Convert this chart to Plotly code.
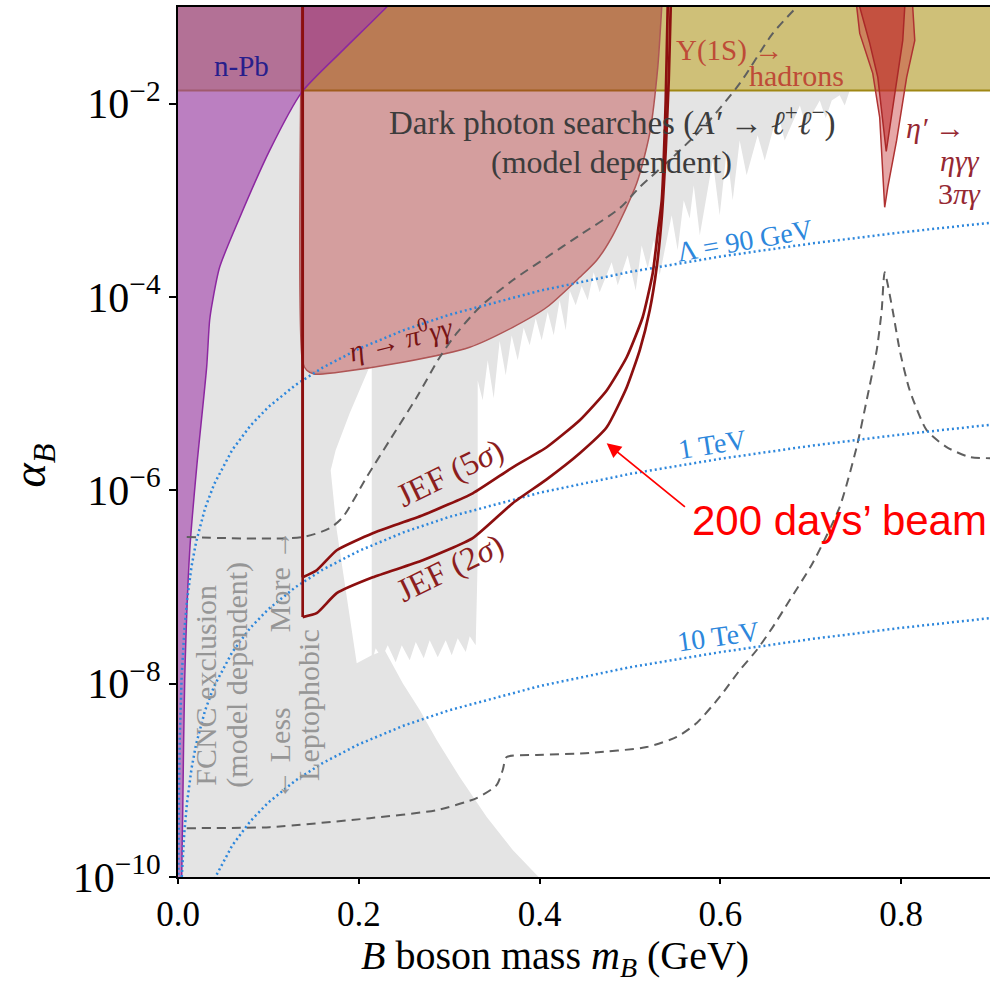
import numpy as np
import plotly.graph_objects as go

# ---------------- data (GeV, alpha_B) ----------------
X_MAX = 0.8982
BAND_LOW = 0.0137          # Upsilon(1S) -> hadrons limit

# n-Pb (purple) boundary
npb_x = [-0.05, 0.0040, 0.0041, 0.0052, 0.0074, 0.013, 0.0207, 0.0317, 0.035, 0.0384,
         0.0461, 0.0683, 0.1014, 0.1368, 0.1822, 0.2308, 0.30, -0.05]
npb_a = [1e-11, 1e-11, 1e-10, 4.6e-10, 1.09e-8, 2.4e-7, 1.74e-6, 1.88e-5, 5.75e-5, 9.25e-5,
         2.04e-4, 6.65e-4, 3.29e-3, 0.0131, 0.0356, 0.1, 0.5, 0.5]

# eta -> pi0 gamma gamma region
etapi_x = [0.1379, 0.1379, 0.1424, 0.1512, 0.1755, 0.2486, 0.3227, 0.3703, 0.4079, 0.4444,
           0.4632, 0.481, 0.5074, 0.5218, 0.5307, 0.5351, 0.540]
etapi_a = [0.5, 2.11e-5, 1.75e-5, 1.59e-5, 1.66e-5, 2.11e-5, 3.02e-5, 4.86e-5, 7.83e-5, 1.6e-4,
           2.4e-4, 4.35e-4, 1.5e-3, 4.93e-3, 0.0237, 0.1, 0.5]

# FCNC / leptophobic grey region
fcnc_x = [-0.05, -0.05, 0.1379, 0.1379, 0.1424, 0.1755, 0.2121, 0.1899, 0.1744, 0.1689, 0.1756,
          0.1866, 0.1977, 0.2143, 0.2287, 0.2486, 0.2674, 0.2862, 0.3116, 0.3415, 0.3703, 0.3989, 0.41]
fcnc_a = [1e-11, BAND_LOW, BAND_LOW, 1.97e-5, 1.75e-5, 1.66e-5, 1.92e-5, 6.27e-6, 2.6e-6, 1.61e-6,
          3.86e-7, 7.84e-8, 1.63e-8, 1.97e-8, 2.22e-8, 1.01e-8, 5.33e-9, 2.61e-9, 1.08e-9, 4.17e-10,
          1.9e-10, 1e-10, 1e-11]

# Dark photon searches (grey, jagged)
darkph_pts = [
    (0.2143, 1.9e-5), (0.2486, 2.11e-5), (0.3227, 3.02e-5), (0.3703, 4.86e-5), (0.4079, 7.83e-5),
    (0.4444, 1.6e-4), (0.4632, 2.4e-4), (0.481, 4.35e-4), (0.5074, 1.5e-3), (0.5218, 4.93e-3),
    (0.5284, BAND_LOW), (0.95, BAND_LOW), (0.743, BAND_LOW), (0.7375, 0.0096), (0.7319, 0.0122),
    (0.7231, 0.0108), (0.7165, 0.00705), (0.7099, 0.0108), (0.6944, 0.00597), (0.6879, 0.0096),
    (0.6711, 0.00417), (0.6633, 0.0081), (0.649, 0.00259), (0.6412, 0.0047), (0.629, 0.00182),
    (0.6213, 0.00417), (0.6136, 0.001), (0.607, 0.00329), (0.5992, 7.0e-4), (0.5915, 0.00259),
    (0.5772, 4.35e-4), (0.5705, 0.00143), (0.566, 6.5e-4), (0.5594, 0.001), (0.5527, 3.04e-4),
    (0.5461, 7.0e-4), (0.5328, 1.68e-4), (0.5262, 3.86e-4), (0.5196, 1.98e-4), (0.5129, 3.42e-4),
    (0.5063, 1.17e-4), (0.4974, 2.7e-4), (0.4864, 1.32e-4), (0.4797, 2.29e-4), (0.4664, 1.12e-4),
    (0.4598, 1.8e-4), (0.4532, 9.25e-5), (0.4466, 1.3e-4), (0.4399, 8.2e-5), (0.4333, 1.17e-4),
    (0.4289, 4.53e-5), (0.4222, 9.25e-5), (0.4156, 4.02e-5), (0.409, 7.0e-5), (0.4023, 3.57e-5),
    (0.3957, 6.03e-5), (0.389, 3.17e-5), (0.3824, 4.8e-5), (0.3758, 2.22e-5), (0.3691, 4.0e-5),
    (0.3625, 1.55e-5), (0.3558, 3.5e-5), (0.3492, 8.97e-6), (0.3426, 2.22e-5), (0.337, 8.55e-6),
    (0.3315, 1.38e-5), (0.3315, 1.89e-7), (0.3293, 2.5e-8), (0.3227, 3.1e-8), (0.3183, 2.12e-8),
    (0.3094, 2.95e-8), (0.3028, 1.97e-8), (0.2961, 2.82e-8), (0.2873, 1.88e-8), (0.2784, 2.82e-8),
    (0.2718, 1.83e-8), (0.263, 2.69e-8), (0.2563, 1.75e-8), (0.2475, 2.5e-8), (0.2408, 1.67e-8),
    (0.232, 2.5e-8), (0.2254, 1.83e-8), (0.2187, 2.33e-8), (0.2143, 1.67e-8),
]
darkph_x = [p[0] for p in darkph_pts]
darkph_a = [p[1] for p in darkph_pts]

# Upsilon band
band_x = [-0.05, 0.95, 0.95, -0.05]
band_a = [BAND_LOW, BAND_LOW, 0.5, 0.5]

# eta' -> eta gamma gamma / 3 pi gamma
etap_out_x = [0.749, 0.7508, 0.7541, 0.7685, 0.7762, 0.7817, 0.7851, 0.7949, 0.806, 0.815, 0.8127, 0.8127]
etap_out_a = [0.5, 0.1, 0.0533, 0.0206, 7.2e-3, 8.47e-4, 1.36e-3, 4.17e-3, 0.0187, 0.0452, 0.1, 0.5]
etap_in_x = [0.7541, 0.7541, 0.7652, 0.7741, 0.7834, 0.7949, 0.8017, 0.8039, 0.8039]
etap_in_a = [0.5, 0.1, 0.042, 0.0187, 3.2e-3, 0.0162, 0.0452, 0.1, 0.5]

# JEF projections (first two points: vertical edge at the pi0 mass)
jef5_x = [0.1379, 0.1379, 0.1534, 0.1756, 0.2154, 0.2707, 0.326, 0.3703, 0.4078, 0.4444, 0.4742,
          0.4963, 0.514, 0.5251, 0.5306, 0.5351, 0.5395, 0.5417, 0.544]
jef5_a = [0.5, 1.26e-7, 1.49e-7, 2.40e-7, 3.60e-7, 5.52e-7, 9.31e-7, 1.73e-6, 2.79e-6, 5.31e-6,
          1.08e-5, 2.38e-5, 6.17e-5, 1.76e-4, 4.56e-4, 1.0e-3, 1.08e-2, 0.1, 0.5]
jef2_x = [0.1379, 0.1379, 0.1534, 0.1756, 0.2154, 0.2707, 0.326, 0.3703, 0.4078, 0.4444, 0.4742,
          0.4963, 0.5107, 0.5218, 0.5295, 0.5351, 0.5395, 0.5428, 0.545, 0.547]
jef2_a = [0.5, 4.88e-8, 5.36e-8, 8.63e-8, 1.26e-7, 1.89e-7, 3.2e-7, 7.36e-7, 1.30e-6, 2.42e-6,
          4.49e-6, 1.16e-5, 2.81e-5, 7.3e-5, 2.03e-4, 6.68e-4, 3.29e-3, 1.74e-2, 0.1, 0.5]

# dashed (model dependent) curves
dash_hi_x = [0.0097, 0.1379, 0.1678, 0.1822, 0.2087, 0.2342, 0.2641, 0.2895, 0.3083, 0.3337, 0.3702,
             0.4079, 0.4444, 0.4886, 0.5108, 0.5473, 0.5849, 0.6214, 0.6579, 0.6845]
dash_hi_a = [3.29e-7, 3.29e-7, 4.07e-7, 5.27e-7, 1.37e-6, 3.3e-6, 9.2e-6, 2.38e-5, 4.22e-5, 7.83e-5,
             1.49e-4, 2.58e-4, 4.36e-4, 8.3e-4, 1.37e-3, 2.79e-3, 6.25e-3, 1.62e-2, 5.33e-2, 0.1]
dash_lo_x = [0.0097, 0.1015, 0.2121, 0.2862, 0.3304, 0.3526, 0.3592, 0.3636, 0.3968, 0.4555, 0.5185,
             0.5517, 0.5738, 0.5992, 0.6214, 0.6402, 0.6579, 0.6767, 0.7021, 0.7319, 0.7507, 0.7618,
             0.7729, 0.7784, 0.7817, 0.7905, 0.7983, 0.8093, 0.8281, 0.8502, 0.8757, 0.90]
dash_lo_a = [3.2e-10, 3.28e-10, 4.06e-10, 4.92e-10, 6.55e-10, 8.95e-10, 1.28e-9, 1.74e-9, 1.83e-9,
             1.92e-9, 2.21e-9, 2.81e-9, 3.92e-9, 7.28e-9, 1.38e-8, 2.23e-8, 3.85e-8, 7.33e-8, 1.77e-7,
             6.71e-7, 2.8e-6, 8.57e-6, 2.82e-5, 7.3e-5, 1.8e-4, 7.3e-5, 2.82e-5, 1.09e-5, 4.19e-6,
             2.8e-6, 2.21e-6, 2.15e-6]

# Lambda contours (dotted)
lam_m = [0.0003, 0.0005, 0.001, 0.002, 0.004, 0.007, 0.01, 0.015, 0.02, 0.03, 0.04, 0.06, 0.08, 0.1,
         0.13, 0.16, 0.2, 0.25, 0.3, 0.4, 0.5, 0.6, 0.7, 0.8, 0.9, 0.92]
lam_90 = [6.55e-11, 1.82e-10, 7.28e-10, 2.91e-9, 1.16e-8, 3.57e-8, 7.28e-8, 1.64e-7, 2.91e-7, 6.55e-7,
          1.16e-6, 2.62e-6, 4.66e-6, 7.28e-6, 1.23e-5, 1.86e-5, 2.91e-5, 4.55e-5, 6.55e-5, 1.16e-4,
          1.82e-4, 2.62e-4, 3.57e-4, 4.66e-4, 5.90e-4, 6.16e-4]
lam_1T = [5.3e-13, 1.47e-12, 5.9e-12, 2.36e-11, 9.44e-11, 2.89e-10, 5.9e-10, 1.33e-9, 2.36e-9, 5.31e-9,
          9.44e-9, 2.12e-8, 3.78e-8, 5.9e-8, 9.97e-8, 1.51e-7, 2.36e-7, 3.69e-7, 5.31e-7, 9.44e-7,
          1.48e-6, 2.12e-6, 2.89e-6, 3.78e-6, 4.78e-6, 4.99e-6]
lam_10T = [5.3e-15, 1.47e-14, 5.9e-14, 2.36e-13, 9.44e-13, 2.89e-12, 5.9e-12, 1.33e-11, 2.36e-11,
           5.31e-11, 9.44e-11, 2.12e-10, 3.78e-10, 5.9e-10, 9.97e-10, 1.51e-9, 2.36e-9, 3.69e-9,
           5.31e-9, 9.44e-9, 1.48e-8, 2.12e-8, 2.89e-8, 3.78e-8, 4.78e-8, 4.99e-8]

x_ticks = [0.0, 0.2, 0.4, 0.6, 0.8]
x_ticktext = ["0.0", "0.2", "0.4", "0.6", "0.8"]
y_ticks = [1e-10, 1e-8, 1e-6, 1e-4, 1e-2]
y_ticktext = ["10<sup>\u221210</sup>", "10<sup>\u22128</sup>", "10<sup>\u22126</sup>",
              "10<sup>\u22124</sup>", "10<sup>\u22122</sup>"]

# ---------------- figure ----------------
SERIF = "Liberation Serif"
fig = go.Figure()


def area(x, y, fill, line_color="rgba(0,0,0,0)", width=0, shape="linear"):
    fig.add_trace(go.Scatter(x=x, y=y, mode="lines", fill="toself", fillcolor=fill,
                             line=dict(color=line_color, width=width, shape=shape, smoothing=0.7),
                             hoverinfo="skip", showlegend=False))


def curve(x, y, color, width, dash="solid", shape="linear", smoothing=0.7):
    fig.add_trace(go.Scatter(x=x, y=y, mode="lines",
                             line=dict(color=color, width=width, dash=dash, shape=shape,
                                       smoothing=smoothing),
                             hoverinfo="skip", showlegend=False))


GREY = "rgb(228,228,228)"
area(fcnc_x, fcnc_a, GREY)
area(darkph_x, darkph_a, GREY)
area(band_x, band_a, "rgba(175,150,30,0.6)", "rgb(160,135,20)", 2)
area(etapi_x, etapi_a, "rgba(160,40,40,0.45)", "rgb(175,85,85)", 1.5, "spline")
area(npb_x, npb_a, "rgba(160,60,170,0.6)", "rgb(140,40,160)", 1.5, "spline")
area(etap_out_x, etap_out_a, "rgba(200,60,60,0.45)", "rgb(175,50,50)", 1.5)
area(etap_in_x, etap_in_a, "rgba(190,40,40,0.55)", "rgb(170,40,40)", 1.5)

DASH = "rgb(95,95,95)"
curve(dash_hi_x, dash_hi_a, DASH, 2, "9px,6px", "spline", 0.8)
curve(dash_lo_x, dash_lo_a, DASH, 2, "9px,6px", "spline", 0.6)

BLUE = "rgb(45,135,220)"
for arr in (lam_90, lam_1T, lam_10T):
    curve(lam_m, arr, BLUE, 2.5, "2px,3px")

JEF = "rgb(140,15,15)"
for jx, ja in ((jef5_x, jef5_a), (jef2_x, jef2_a)):
    curve(jx[:2], ja[:2], JEF, 2.7)                       # vertical edge
    curve(jx[1:], ja[1:], JEF, 2.7, "solid", "spline", 0.5)


def label(text, x, a, color, size, angle=0, family=SERIF, xanchor="center"):
    fig.add_annotation(x=x, y=np.log10(a), xref="x", yref="y", text=text, showarrow=False,
                       font=dict(family=family, size=size, color=color), textangle=angle,
                       xanchor=xanchor, yanchor="middle")


label("n-Pb", 0.0705, 0.0243, "rgb(40,30,140)", 29)
label("\u03a5(1S) \u2192", 0.6104, 0.0356, "rgb(190,75,55)", 29)
label("hadrons", 0.684, 0.0196, "rgb(190,75,55)", 30)
label("Dark photon searches (<i>A\u2032</i> \u2192 <i>\u2113</i><sup>+</sup><i>\u2113</i><sup>\u2212</sup>)",
      0.481, 6.7e-3, "rgb(60,60,60)", 33)
label("(model dependent)", 0.480, 2.52e-3, "rgb(60,60,60)", 32)
label("<i>\u03b7\u2032</i> \u2192", 0.8382, 5.67e-3, "rgb(150,40,50)", 30)
label("<i>\u03b7\u03b3\u03b3</i>", 0.8648, 2.6e-3, "rgb(150,40,50)", 30)
label("3<i>\u03c0\u03b3</i>", 0.8648, 1.18e-3, "rgb(150,40,50)", 30)
label("\u039b = 90 GeV", 0.6269, 3.84e-4, BLUE, 28, -10)
label("1 TeV", 0.5902, 2.99e-6, BLUE, 28, -9)
label("10 TeV", 0.597, 3.05e-8, BLUE, 28, -8)
label("<i>\u03b7</i> \u2192 <i>\u03c0</i><sup>0</sup><i>\u03b3\u03b3</i>", 0.2463, 3.9e-5, "rgb(120,20,20)", 29, -14)
label("JEF (5<i>\u03c3</i>)", 0.3005, 1.5e-6, "rgb(140,30,30)", 33, -26)
label("JEF (2<i>\u03c3</i>)", 0.3005, 1.56e-7, "rgb(140,30,30)", 33, -26)
LG = "rgb(150,150,150)"
label("FCNC exclusion", 0.0295, 9.66e-9, LG, 30, -90)
label("(model dependent)", 0.0649, 1.23e-8, LG, 30, -90)
label("\u2190 Less\u2003\u2003\u2002More \u2192", 0.1114, 1.56e-8, LG, 30, -90)
label("Leptophobic", 0.1436, 6.0e-9, LG, 30, -90)

# highlighted note
label("200 days\u2019 beam", 0.5658, 4.91e-7, "rgb(255,0,0)", 42, 0, "Liberation Sans", "left")
fig.add_annotation(x=0.4742, y=np.log10(3.07e-6), ax=0.5624, ay=np.log10(6.55e-7),
                   xref="x", yref="y", axref="x", ayref="y", text="", showarrow=True,
                   arrowhead=2, arrowsize=1.6, arrowwidth=1.8, arrowcolor="rgb(255,0,0)")

# axis titles
fig.add_annotation(x=0.4643, y=-0.0935, xref="paper", yref="paper", showarrow=False,
                   text="<i>B</i> boson mass <i>m</i><sub><i>B</i></sub> (GeV)",
                   font=dict(family=SERIF, size=40, color="black"), xanchor="center", yanchor="middle")
fig.add_annotation(x=-0.178, y=0.4736, xref="paper", yref="paper", showarrow=False,
                   text="<i>\u03b1</i><sub><i>B</i></sub>", textangle=-90,
                   font=dict(family=SERIF, size=46, color="black"), xanchor="center", yanchor="middle")

fig.update_layout(
    width=990, height=984, template="none", showlegend=False,
    margin=dict(l=178, r=0, t=7, b=107, autoexpand=False),
    paper_bgcolor="white", plot_bgcolor="white",
    font=dict(family=SERIF, color="black"),
)
fig.update_xaxes(range=[0, X_MAX], tickvals=x_ticks, ticktext=x_ticktext, ticks="outside",
                 ticklen=5, tickwidth=1.5, tickcolor="black", showline=True, linewidth=2,
                 linecolor="black", mirror=True, showgrid=False, zeroline=False, automargin=False,
                 tickfont=dict(family=SERIF, size=35, color="black"))
fig.update_yaxes(type="log", range=[-10, -1], tickvals=y_ticks, ticktext=y_ticktext, ticks="outside",
                 ticklen=7, tickwidth=1.5, tickcolor="black", showline=True, linewidth=2,
                 linecolor="black", mirror=False, showgrid=False, zeroline=False, automargin=False,
                 tickfont=dict(family=SERIF, size=42, color="black"))

fig.write_html("out.html")
